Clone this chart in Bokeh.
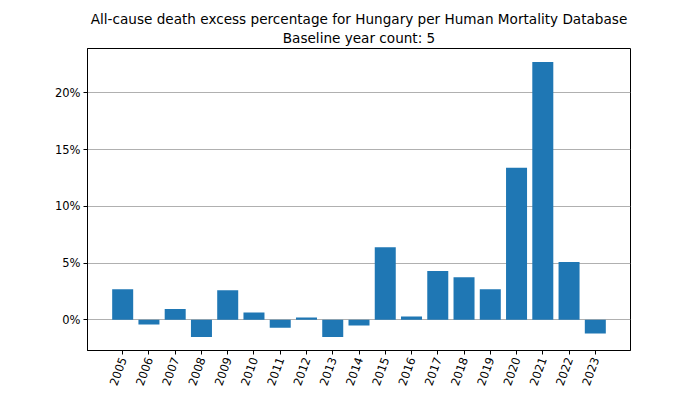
import math
from bokeh.plotting import figure
from bokeh.models import FixedTicker, PrintfTickFormatter, Range1d, Title
from bokeh.embed import file_html
from bokeh.resources import INLINE

years = [2005, 2006, 2007, 2008, 2009, 2010, 2011, 2012, 2013, 2014,
         2015, 2016, 2017, 2018, 2019, 2020, 2021, 2022, 2023]
excess_pct = [2.7, -0.4, 0.95, -1.5, 2.6, 0.65, -0.7, 0.2, -1.5, -0.5,
              6.4, 0.3, 4.3, 3.75, 2.7, 13.4, 22.7, 5.1, -1.2]
y_ticks = [0, 5, 10, 15, 20]
title_line1 = "All-cause death excess percentage for Hungary per Human Mortality Database"
title_line2 = "Baseline year count: 5"

FONT = "DejaVu Sans"

p = figure(frame_width=543, frame_height=302, output_backend="svg", toolbar_location=None,
           x_range=Range1d(2003.66, 2024.34), y_range=Range1d(-2.7, 23.9),
           min_border_left=87, min_border_right=70, min_border_top=48, min_border_bottom=30)
p.title.text = ""

p.add_layout(Title(text=title_line2, align="center", text_font=FONT, text_font_size="13.6px",
                   text_font_style="normal", text_color="black", standoff=6), "above")
p.add_layout(Title(text=title_line1, align="center", text_font=FONT, text_font_size="13.6px",
                   text_font_style="normal", text_color="black", standoff=-4), "above")

p.vbar(x=years, top=excess_pct, bottom=0, width=0.8, fill_color="#1f77b4", line_color=None)

p.xaxis.ticker = FixedTicker(ticks=years)
p.xaxis.major_label_orientation = math.radians(70)
p.yaxis.ticker = FixedTicker(ticks=y_ticks)
p.yaxis.formatter = PrintfTickFormatter(format="%d%%")

for ax in (p.xaxis, p.yaxis):
    ax.major_label_text_font = FONT
    ax.major_label_text_font_size = "11.5px"
    ax.major_label_text_color = "black"
    ax.axis_line_color = "black"
    ax.major_tick_line_color = "black"
    ax.major_tick_out = 4
    ax.major_tick_in = 0
    ax.minor_tick_line_color = None
    ax.major_label_standoff = 3

p.xgrid.grid_line_color = None
p.ygrid.grid_line_color = "#b0b0b0"
p.ygrid.grid_line_width = 1
p.outline_line_color = "black"
p.outline_line_width = 1
p.background_fill_color = "white"
p.border_fill_color = "white"

open("out.html", "w").write(file_html(p, INLINE))
